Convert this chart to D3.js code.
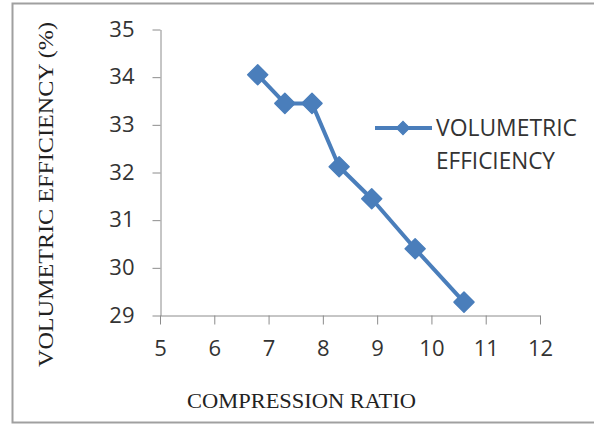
<!DOCTYPE html>
<html>
<head>
<meta charset="utf-8">
<script src="https://cdn.jsdelivr.net/npm/d3@7/dist/d3.min.js"></script>
<style>
  html, body { margin: 0; padding: 0; background: #ffffff; }
  svg { display: block; }
</style>
</head>
<body>
<svg id="chart" width="594" height="425"></svg>
<script>
// Compression ratio vs. volumetric efficiency
const compressionRatio = [6.8, 7.3, 7.8, 8.3, 8.9, 9.7, 10.6];
const volumetricEfficiency = [34.05, 33.45, 33.45, 32.12, 31.45, 30.4, 29.28];
const xTicks = [5, 6, 7, 8, 9, 10, 11, 12];
const yTicks = [29, 30, 31, 32, 33, 34, 35];
const seriesName = ["VOLUMETRIC", "EFFICIENCY"];
const xTitle = "COMPRESSION RATIO";
const yTitle = "VOLUMETRIC EFFICIENCY (%)";

const blue = "#4a7ebb";
const axisGrey = "#8c8c8c";
const textColor = "#333333";

const svg = d3.select("#chart");

// outer chart frame
svg.append("rect")
  .attr("x", 12.5).attr("y", 3.5)
  .attr("width", 600).attr("height", 419)
  .attr("fill", "#ffffff")
  .attr("stroke", "#a0a0a0")
  .attr("stroke-width", 2);

const x = d3.scaleLinear().domain([5, 12]).range([160, 540]);
const y = d3.scaleLinear().domain([29, 35]).range([315.5, 29.5]);
const fmt = d3.format("d");

// y axis
const yAxis = svg.append("g")
  .attr("transform", "translate(160.5,0)")
  .call(d3.axisLeft(y).tickValues(yTicks).tickFormat(fmt)
    .tickSize(8).tickPadding(18).tickSizeOuter(0));
yAxis.select(".domain").attr("stroke", axisGrey);
yAxis.selectAll(".tick line").attr("stroke", axisGrey);
yAxis.selectAll(".tick text")
  .attr("font-family", "'Open Sans', sans-serif")
  .attr("font-size", 22)
  .attr("fill", textColor)
  .attr("dy", "0.3em");

// x axis
const xAxis = svg.append("g")
  .attr("transform", "translate(0,315.5)")
  .call(d3.axisBottom(x).tickValues(xTicks).tickFormat(fmt)
    .tickSize(9).tickPadding(16).tickSizeOuter(0));
xAxis.select(".domain").attr("stroke", axisGrey);
xAxis.selectAll(".tick line").attr("stroke", axisGrey);
xAxis.selectAll(".tick text")
  .attr("font-family", "'Open Sans', sans-serif")
  .attr("font-size", 22)
  .attr("fill", textColor);

// axis titles
svg.append("text")
  .attr("x", 187).attr("y", 408)
  .attr("font-family", "'Liberation Serif', 'Times New Roman', serif")
  .attr("font-size", 20)
  .attr("fill", "#222222")
  .attr("textLength", 229)
  .attr("lengthAdjust", "spacingAndGlyphs")
  .text(xTitle);

svg.append("text")
  .attr("transform", "translate(53,367) rotate(-90)")
  .attr("font-family", "'Liberation Serif', 'Times New Roman', serif")
  .attr("font-size", 20)
  .attr("fill", "#222222")
  .attr("textLength", 345)
  .attr("lengthAdjust", "spacingAndGlyphs")
  .text(yTitle);

// series line
const points = compressionRatio.map((v, i) => [v, volumetricEfficiency[i]]);
svg.append("path")
  .datum(points)
  .attr("fill", "none")
  .attr("stroke", blue)
  .attr("stroke-width", 4)
  .attr("stroke-linejoin", "round")
  .attr("d", d3.line().x(d => x(d[0])).y(d => y(d[1])));

// diamond markers
const diamond = d3.symbol().type(d3.symbolSquare).size(200);
svg.selectAll(".marker")
  .data(points)
  .enter().append("path")
  .attr("class", "marker")
  .attr("d", diamond)
  .attr("fill", blue)
  .attr("stroke", blue)
  .attr("stroke-width", 1.5)
  .attr("stroke-linejoin", "round")
  .attr("transform", d => `translate(${x(d[0])},${y(d[1])}) rotate(45)`);

// legend
const legend = svg.append("g");
legend.append("line")
  .attr("x1", 375).attr("x2", 432)
  .attr("y1", 128).attr("y2", 128)
  .attr("stroke", blue).attr("stroke-width", 4);
legend.append("path")
  .attr("d", d3.symbol().type(d3.symbolSquare).size(90))
  .attr("fill", blue)
  .attr("stroke", blue)
  .attr("stroke-width", 1)
  .attr("transform", "translate(403,128) rotate(45)");
legend.append("text")
  .attr("x", 436).attr("y", 136)
  .attr("font-family", "'Open Sans', sans-serif")
  .attr("font-size", 23)
  .attr("fill", textColor)
  .attr("textLength", 141)
  .attr("lengthAdjust", "spacingAndGlyphs")
  .text(seriesName[0]);
legend.append("text")
  .attr("x", 436).attr("y", 169)
  .attr("font-family", "'Open Sans', sans-serif")
  .attr("font-size", 23)
  .attr("fill", textColor)
  .attr("textLength", 119)
  .attr("lengthAdjust", "spacingAndGlyphs")
  .text(seriesName[1]);
</script>
</body>
</html>
